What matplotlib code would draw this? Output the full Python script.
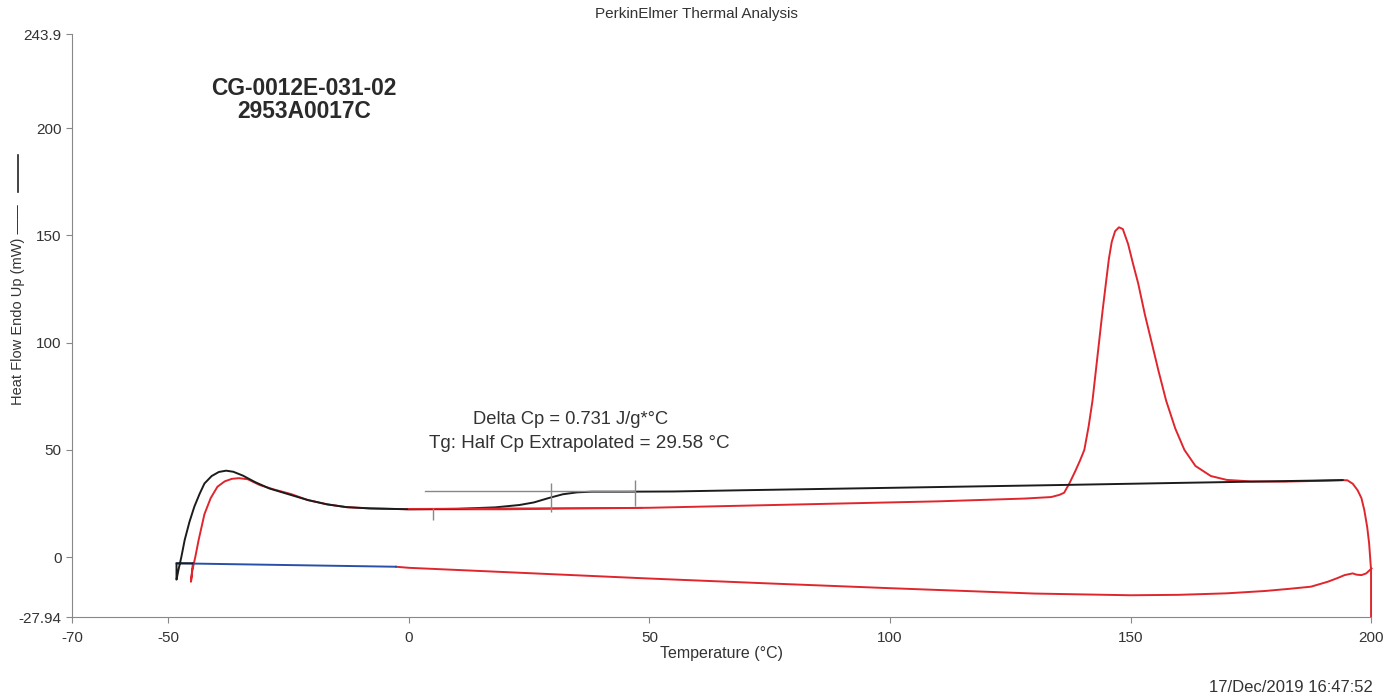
import matplotlib
matplotlib.use('Agg')
import matplotlib.pyplot as plt
from matplotlib.lines import Line2D

plt.rcParams['font.family'] = ['Liberation Sans', 'DejaVu Sans']

# second heating run (black)
black_t = [-45.0, -48.3, -48.3, -47.9, -47.3, -46.6, -45.6, -44.6, -43.5, -42.5, -41.0,
           -39.5, -38.0, -36.5, -34.5, -32.0, -29.0, -25.0, -21.0, -17.0, -13.0, -8.0,
           0.0, 10.0, 18.0, 23.0, 26.0, 29.0, 32.0, 35.0, 38.0, 45.0, 55.0, 70.0,
           100.0, 135.0, 160.0, 194.1]
black_hf = [-2.9, -2.9, -10.5, -6.0, 0.0, 8.0, 16.5, 23.5, 29.5, 34.3, 37.8,
            39.7, 40.3, 39.8, 38.0, 35.0, 32.0, 29.3, 26.6, 24.6, 23.3, 22.7,
            22.3, 22.5, 23.2, 24.3, 25.5, 27.5, 29.3, 30.2, 30.5, 30.5, 30.6, 31.2,
            32.3, 33.6, 34.6, 35.9]

# first heating run (red)
red_t = [-44.9, -45.3, -45.0, -44.4, -43.7, -42.5, -41.2, -39.8, -38.3, -36.8,
         -35.3, -33.5, -31.0, -28.0, -24.5, -21.0, -17.0, -13.0, -8.0, 0.0, 20.0,
         50.0, 80.0, 110.0, 128.0, 133.5, 135.2, 136.2, 137.3, 138.5, 139.5, 140.4,
         141.3, 142.1, 142.8, 143.5, 144.2, 144.9, 145.5, 146.1, 146.8, 147.6, 148.4,
         149.5, 150.5, 151.6, 153.0, 154.3, 155.8, 157.4, 159.3, 161.2, 163.5, 166.7,
         170.0, 175.0, 182.0, 190.0, 194.1, 195.1, 196.2, 197.2, 198.0, 198.6, 199.2,
         199.6, 200.0, 200.0]
red_hf = [-2.9, -11.5, -6.0, 0.0, 8.0, 20.0, 27.5, 32.8, 35.3, 36.5,
          36.8, 36.3, 33.6, 31.5, 29.4, 26.6, 24.6, 23.3, 22.7, 22.3, 22.3,
          23.0, 24.5, 26.0, 27.3, 28.0, 29.0, 30.0, 34.4, 40.0, 45.0, 50.0,
          61.0, 73.0, 87.0, 101.0, 115.0, 128.0, 139.0, 147.0, 152.0, 153.8, 153.0,
          146.0, 137.0, 127.6, 113.0, 101.0, 87.0, 73.0, 60.0, 50.0, 42.5, 37.8,
          36.0, 35.3, 35.2, 35.6, 35.9, 35.8, 34.2, 31.2, 27.5, 21.9, 14.0,
          6.4, -6.0, -27.5]

# cooling run (red)
cool_t = [200.1, 199.0, 198.0, 197.0, 196.2, 194.5, 193.0, 191.0, 187.5, 183.0, 178.0,
          170.0, 160.0, 150.0, 130.0, 100.0, 75.0, 50.0, 25.0, 0.0, -2.7]
cool_hf = [-5.3, -7.6, -8.4, -8.2, -7.6, -8.4, -9.8, -11.5, -13.8, -14.8, -15.8,
           -16.9, -17.6, -17.8, -17.0, -14.5, -12.3, -10.0, -7.5, -5.0, -4.5]

# isothermal / cooling start (blue)
blue_t = [-2.7, -48.3]
blue_hf = [-4.5, -2.9]

# Tg analysis marks
tg_line_t = [3.3, 46.8]
tg_line_hf = [30.8, 30.8]
tg_base_t = [0.0, 48.4]
tg_base_hf = [22.5, 23.0]
tg_marks_t = [5.0, 29.6, 47.0]
tg_marks_lo = [17.2, 21.0, 24.0]
tg_marks_hi = [22.8, 34.5, 36.0]

x_ticks = [-70, -50, 0, 50, 100, 150, 200]
y_ticks = [-27.94, 0, 50, 100, 150, 200, 243.9]
y_tick_labels = ['-27.94', '0', '50', '100', '150', '200', '243.9']

fig = plt.figure(figsize=(13.87, 6.96), dpi=100)
ax = fig.add_axes([0.052, 0.1135, 0.9365, 0.8375])

ax.plot(red_t, red_hf, color='#e0262d', lw=1.4, clip_on=False)
ax.plot(cool_t, cool_hf, color='#e0262d', lw=1.4, clip_on=False)
ax.plot(blue_t, blue_hf, color='#2a4fa8', lw=1.4)
ax.plot(black_t, black_hf, color='#1c1c1c', lw=1.4)

ax.plot(tg_line_t, tg_line_hf, color='#888888', lw=1.0)
ax.plot(tg_base_t, tg_base_hf, color='#e0262d', lw=1.2)
ax.vlines(tg_marks_t, tg_marks_lo, tg_marks_hi, color='#888888', lw=1.0)

ax.set_xlim(-70, 200)
ax.set_ylim(-27.94, 243.9)
ax.set_xticks(x_ticks)
ax.set_xticklabels([str(v) for v in x_ticks])
ax.set_yticks(y_ticks)
ax.set_yticklabels(y_tick_labels)
ax.tick_params(direction='out', length=4, color='#888888', labelsize=11, labelcolor='#333333')
ax.tick_params(axis='x', pad=6)
for s in ['top', 'right']:
    ax.spines[s].set_visible(False)
for s in ['left', 'bottom']:
    ax.spines[s].set_color('#888888')

ax.set_xlabel('Temperature (°C)', fontsize=11.5, color='#333333')
ax.xaxis.set_label_coords(0.5, -0.050)
ax.set_ylabel('Heat Flow Endo Up (mW) \u2014\u2014', fontsize=10.5, color='#333333')
ax.yaxis.set_label_coords(-0.036, 0.536)

fig.text(0.502, 0.99, 'PerkinElmer Thermal Analysis', ha='center', va='top', fontsize=11, color='#333333')
fig.text(0.219, 0.857, 'CG-0012E-031-02\n2953A0017C', ha='center', va='center',
         fontsize=16.4, fontweight='bold', color='#2a2a2a', linespacing=1.0)
ax.text(33.7, 64.3, 'Delta Cp = 0.731 J/g*°C', ha='center', va='center', fontsize=13.2, color='#333333')
ax.text(35.5, 53.0, 'Tg: Half Cp Extrapolated = 29.58 °C', ha='center', va='center', fontsize=13.6, color='#333333')
fig.text(0.99, 0.0115, '17/Dec/2019 16:47:52', ha='right', va='center', fontsize=12, color='#333333')

fig.add_artist(Line2D([0.013, 0.013], [0.724, 0.777], color='#222222', lw=1.2))

fig.savefig('out.png', dpi=100)
